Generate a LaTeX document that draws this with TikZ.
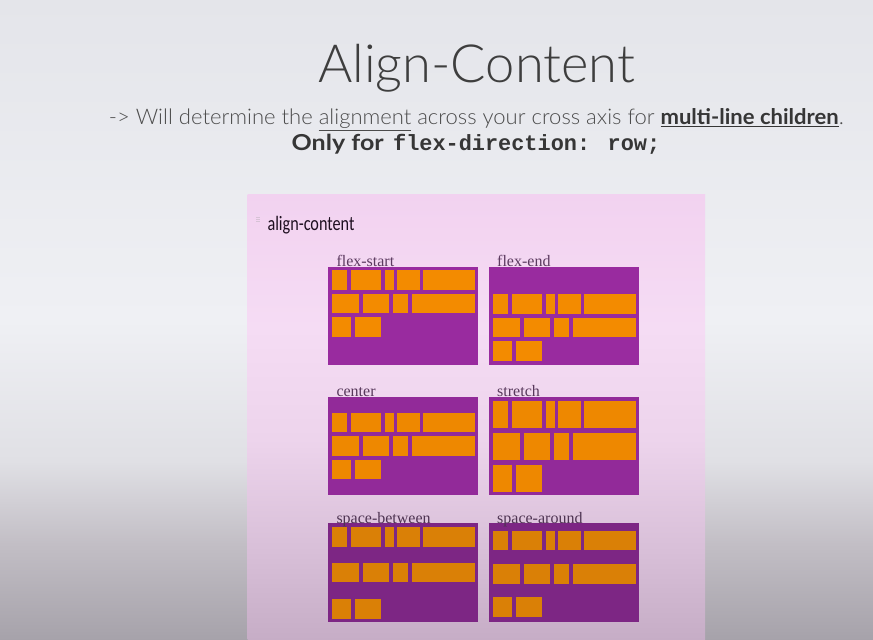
\documentclass[tikz,border=0pt]{standalone}
\usepackage{fontspec}
\usepackage{graphicx}
\setmainfont{Liberation Serif}
\newfontfamily\lightfont{Lato Light}
\newfontfamily\boldsans{Lato}
\newfontfamily\labelsans{Carlito}
\newfontfamily\codefont{Liberation Mono}

% slide background and panel colours
\definecolor{bgtop}{HTML}{E4E5EA}
\definecolor{bgmid}{HTML}{EFF0F4}
\definecolor{bgmidlow}{HTML}{E0E0E5}
\definecolor{bglow}{HTML}{C2BEC5}
\definecolor{bgbot}{HTML}{A6A2AA}
\definecolor{pktop}{HTML}{F2D2F0}
\definecolor{pkmid}{HTML}{F5DCF4}
\definecolor{pkmidlow}{HTML}{EDD4EC}
\definecolor{pklow}{HTML}{D8BFD8}
\definecolor{pkbot}{HTML}{C6ADC6}
% text colours
\definecolor{titlegray}{HTML}{3E3E3E}
\definecolor{subgray}{HTML}{4C4C4C}
\definecolor{boldgray}{HTML}{363636}
\definecolor{panelink}{HTML}{1E0F20}
\definecolor{iconink}{HTML}{D6C2D5}
% flex container / item colours, one set per band of the panel
\definecolor{boxa}{HTML}{992B9F}
\definecolor{itema}{HTML}{F38B00}
\definecolor{laba}{HTML}{5C3A60}
\definecolor{boxb}{HTML}{922A99}
\definecolor{itemb}{HTML}{EE8800}
\definecolor{labb}{HTML}{57385B}
\definecolor{boxc}{HTML}{7D2684}
\definecolor{itemc}{HTML}{DA8006}
\definecolor{labc}{HTML}{4E3452}

% TikZ fits the filled path to the middle 50bp of an axis shading
\pgfdeclareverticalshading{slideshade}{100bp}{%
  color(0bp)=(bgbot); color(25bp)=(bgbot); color(32.5bp)=(bglow);
  color(39bp)=(bgmidlow); color(50bp)=(bgmid); color(75bp)=(bgtop);
  color(100bp)=(bgtop)}
\pgfdeclareverticalshading{panelshade}{100bp}{%
  color(0bp)=(pkbot); color(25bp)=(pkbot); color(35bp)=(pklow);
  color(47.5bp)=(pkmidlow); color(60bp)=(pkmid); color(75bp)=(pktop);
  color(100bp)=(pktop)}

\tikzset{
  flexbox/.style={anchor=north west, inner sep=0pt, outer sep=0pt,
    minimum width=150pt, minimum height=98.3pt, draw=none},
  boxlabel/.style={anchor=base west, inner sep=0pt,
    font=\fontsize{16}{18}\selectfont},
  plaintext/.style={anchor=base west, inner sep=0pt},
}

% #1 name, #2/#3 top-left corner, #4 label, #5-#7 row tops, #8 row height, #9 colour band
\newcommand\flexpanel[9]{%
  \node[flexbox, fill=box#9] (#1) at (#2,#3) {};
  \begin{scope}[shift={(#2,#3)}]
    \foreach \a/\b in {3.5/19,22.5/53,56.5/66,69/91.5,94.5/147}
      \fill[item#9] (\a,#5) rectangle (\b,{#5+#8});
    \foreach \a/\b in {3.5/31,34.5/61,64.5/80,83.5/147}
      \fill[item#9] (\a,#6) rectangle (\b,{#6+#8});
    \foreach \a/\b in {3.5/23,26.5/53}
      \fill[item#9] (\a,#7) rectangle (\b,{#7+#8});
    \node[boxlabel, text=lab#9] (#1-label) at (8,0) {#4};
  \end{scope}%
}

\begin{document}
\begin{tikzpicture}[x=1pt, y=-1pt]
  \useasboundingbox (0,0) rectangle (873,640);
  \shade[shading=slideshade] (0,0) rectangle (873,640);

  % heading
  \node[plaintext, text=titlegray] (title) at (318,82.7)
    {\resizebox{317pt}{\height}{\fontsize{52.6}{60}\lightfont Align-Content}};
  \node[plaintext, text=subgray] (subtitle) at (108.7,124.5)
    {\resizebox{735pt}{\height}{\fontsize{21.5}{25}\lightfont
      -> Will determine the \underline{alignment} across your cross axis for
      {\color{boldgray}\boldsans\bfseries\underline{multi-line children}}.}};
  \node[plaintext, text=boldgray] (onlyfor) at (291.5,150)
    {\resizebox{92pt}{\height}{\fontsize{22}{25}\boldsans\bfseries Only for}};
  \node[plaintext, text=boldgray] (code) at (393,150)
    {\resizebox{267pt}{\height}{\fontsize{22}{25}\codefont\bfseries flex-direction: row;}};

  % demo panel
  \shade[shading=panelshade] (247.5,194) rectangle (705,640);
  \foreach \k in {0,1.8,3.6}
    \draw[iconink, line width=0.9pt] (256,{217.5+\k}) -- (260,{217.5+\k});
  \node[plaintext, text=panelink] (heading) at (267.3,230)
    {\resizebox{87pt}{\height}{\fontsize{20.5}{24}\labelsans align-content}};

  \flexpanel{fstart}{328.3}{266.7}{flex-start}{3.5}{27}{50.5}{19.3}{a}
  \flexpanel{fend}{489}{266.7}{flex-end}{27.5}{51}{74.5}{19.5}{a}
  \flexpanel{fcenter}{328.3}{396.7}{center}{16}{39.5}{63}{19.5}{b}
  \flexpanel{fstretch}{489}{396.7}{stretch}{4}{36}{68}{27.3}{b}
  \flexpanel{fbetween}{328.3}{523.3}{space-between}{4}{39.5}{76}{19.5}{c}
  \flexpanel{faround}{489}{523.3}{space-around}{7.5}{41}{74}{19.5}{c}
\end{tikzpicture}
\end{document}
